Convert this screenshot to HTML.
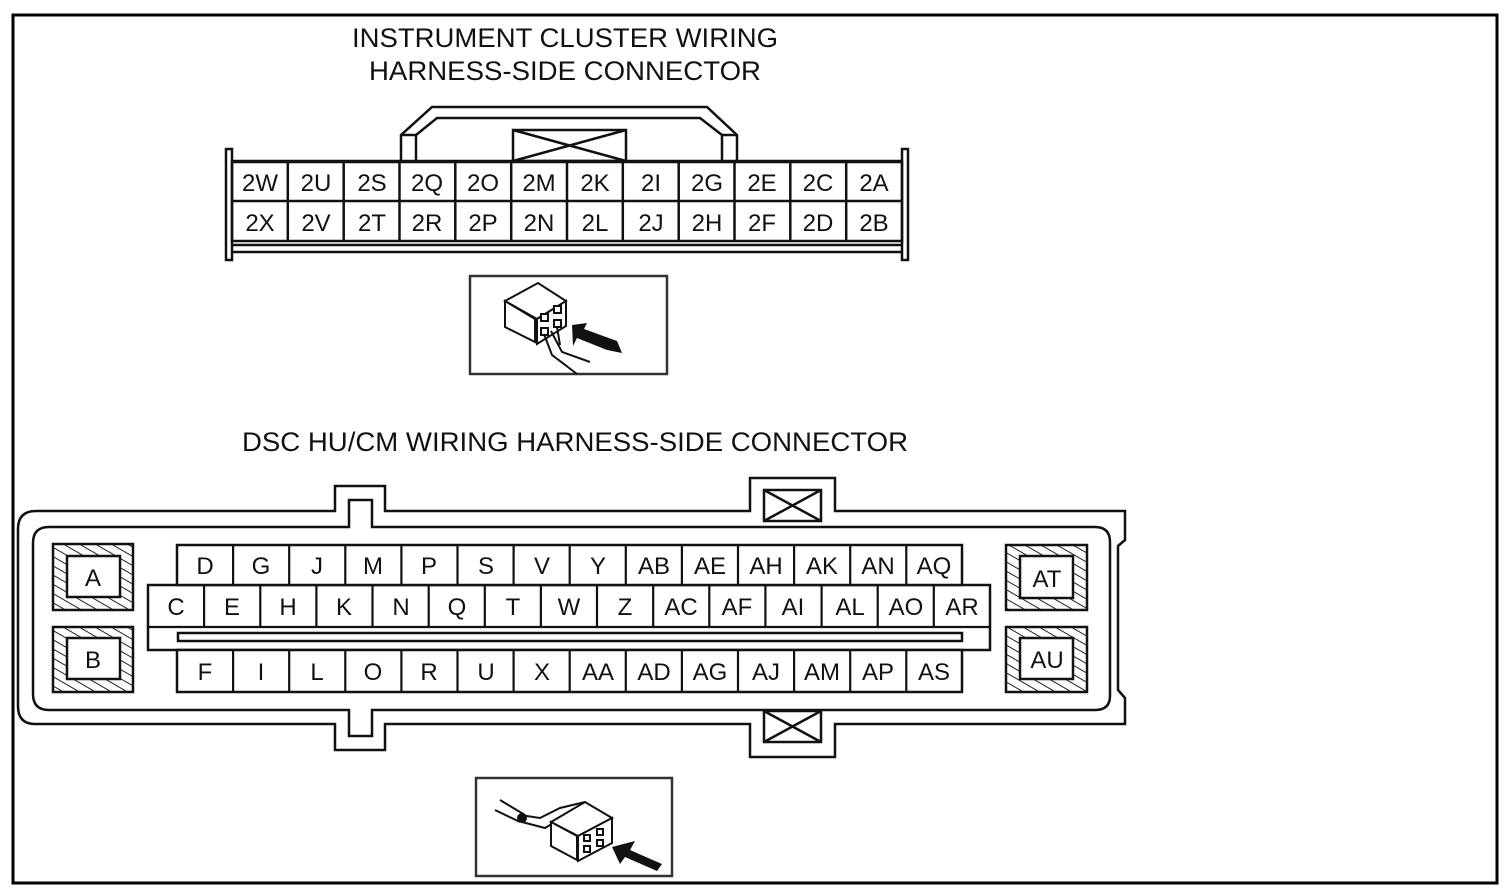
<!DOCTYPE html>
<html><head><meta charset="utf-8"><style>
html,body{margin:0;padding:0;background:#fff;}
svg{display:block;}
text{font-family:"Liberation Sans",sans-serif;fill:#111;}
</style></head><body>
<svg width="1510" height="894" viewBox="0 0 1510 894" xmlns="http://www.w3.org/2000/svg">
<defs>
<pattern id="h" width="8" height="8" patternUnits="userSpaceOnUse" patternTransform="rotate(-60)">
<rect width="8" height="8" fill="#fff"/><line x1="0" y1="0" x2="0" y2="8" stroke="#222" stroke-width="2"/>
</pattern>
</defs>
<rect x="13" y="15" width="1484" height="868" fill="#fff" stroke="#000" stroke-width="3"/>

<g font-size="27" text-anchor="middle">
<text x="565" y="47" textLength="426" lengthAdjust="spacingAndGlyphs">INSTRUMENT CLUSTER WIRING</text>
<text x="565" y="80" textLength="392" lengthAdjust="spacingAndGlyphs">HARNESS-SIDE CONNECTOR</text>
<text x="575" y="451" textLength="666" lengthAdjust="spacingAndGlyphs">DSC HU/CM WIRING HARNESS-SIDE CONNECTOR</text>
</g>

<!-- top connector -->
<g stroke="#111" stroke-width="2.5" fill="none">
<rect x="226" y="149" width="6" height="111" fill="#fff"/>
<rect x="902" y="149" width="6" height="111" fill="#fff"/>
<line x1="232" y1="161" x2="902" y2="161"/>
<line x1="232" y1="245" x2="902" y2="245"/>
<line x1="232" y1="252" x2="902" y2="252"/>
<path d="M401 161 V135 L432 107 H707 L737 135 V161"/>
<path d="M416 161 V135 L437 118 H700 L722 135 V161"/>
<line x1="401" y1="135" x2="416" y2="135"/>
<line x1="722" y1="135" x2="737" y2="135"/>
<rect x="513" y="130" width="113" height="31"/>
<path d="M513 130 L626 161 M626 130 L513 161"/>
<rect x="232" y="162" width="670" height="79"/>
<line x1="232" y1="201" x2="902" y2="201"/>
<path d="M287.8 162V241M343.7 162V241M399.5 162V241M455.3 162V241M511.2 162V241M567 162V241M622.8 162V241M678.7 162V241M734.5 162V241M790.3 162V241M846.2 162V241"/>
</g>
<g font-size="24" text-anchor="middle">
<text x="260" y="191">2W</text><text x="316" y="191">2U</text><text x="372" y="191">2S</text><text x="427" y="191">2Q</text><text x="483" y="191">2O</text><text x="539" y="191">2M</text><text x="595" y="191">2K</text><text x="651" y="191">2I</text><text x="707" y="191">2G</text><text x="762" y="191">2E</text><text x="818" y="191">2C</text><text x="874" y="191">2A</text>
<text x="260" y="231">2X</text><text x="316" y="231">2V</text><text x="372" y="231">2T</text><text x="427" y="231">2R</text><text x="483" y="231">2P</text><text x="539" y="231">2N</text><text x="595" y="231">2L</text><text x="651" y="231">2J</text><text x="707" y="231">2H</text><text x="762" y="231">2F</text><text x="818" y="231">2D</text><text x="874" y="231">2B</text>
</g>

<!-- icon box 1 -->
<rect x="470" y="276" width="197" height="98" fill="#fff" stroke="#333" stroke-width="2.5"/>
<g stroke="#111" stroke-width="2" fill="#fff">
<path d="M505 301 L538 283 L566 301 L537 319 Z"/>
<path d="M505 301 V327 L535 342 V319 Z"/>
<path d="M537 319 L566 301 V326 L537 344 Z"/>
<rect x="541" y="314" width="7" height="7"/><rect x="554" y="306" width="7" height="7"/>
<rect x="541" y="328" width="7" height="7"/><rect x="554" y="320" width="7" height="7"/>
<path d="M544 334 L552 355 L568 367 M551 331 L562 352 L590 362 M557 327 L560 345 M552 355 L577 374" fill="none"/>
</g>
<path d="M572 325 L587 323 L584 329 L617 341 L622 353 L607 350 L577 338 L573 346 Z" fill="#111"/>

<!-- big connector -->
<g stroke="#111" stroke-width="2.5" fill="none">
<path d="M335 511 V486 H385 V511 H750 V478 H835 V511 H1125 V540 L1118 546 V690 L1125 698 V724 H835 V757 H750 V724 H385 V750 H335 V724 H35 Q18 724 18 706 V529 Q18 511 36 511 Z"/>
<path d="M349 527 V500 H372 V527 H1095 Q1110 527 1110 542 V696 Q1110 710 1095 710 H372 V736 H349 V710 H49 Q33 710 33 694 V543 Q33 527 49 527 Z"/>
<rect x="764" y="490" width="57" height="31"/><path d="M764 490 L821 521 M821 490 L764 521"/>
<rect x="764" y="711" width="57" height="31"/><path d="M764 711 L821 742 M821 711 L764 742"/>
</g>
<g stroke="#111" stroke-width="2.5">
<rect x="53" y="544" width="80" height="66" fill="url(#h)"/><rect x="67" y="556" width="53" height="41" fill="#fff"/>
<rect x="53" y="627" width="80" height="65" fill="url(#h)"/><rect x="67" y="638" width="53" height="41" fill="#fff"/>
<rect x="1006" y="545" width="81" height="65" fill="url(#h)"/><rect x="1020" y="556" width="53" height="42" fill="#fff"/>
<rect x="1006" y="627" width="81" height="65" fill="url(#h)"/><rect x="1020" y="638" width="53" height="41" fill="#fff"/>
</g>
<g stroke="#111" stroke-width="2.5" fill="#fff">
<rect x="148" y="585" width="842" height="65"/>
<rect x="178" y="633" width="784" height="8"/>
<rect x="177" y="545" width="785" height="40"/>
<rect x="177" y="650" width="785" height="42"/>
</g>
<g stroke="#111" stroke-width="2.2">
<path d="M233.1 545V585M289.2 545V585M345.3 545V585M401.4 545V585M457.5 545V585M513.6 545V585M569.7 545V585M625.8 545V585M681.9 545V585M738 545V585M794.1 545V585M850.2 545V585M906.3 545V585"/>
<path d="M233.1 650V692M289.2 650V692M345.3 650V692M401.4 650V692M457.5 650V692M513.6 650V692M569.7 650V692M625.8 650V692M681.9 650V692M738 650V692M794.1 650V692M850.2 650V692M906.3 650V692"/>
<path d="M204.1 585V627M260.3 585V627M316.4 585V627M372.5 585V627M428.7 585V627M484.8 585V627M540.9 585V627M597 585V627M653.2 585V627M709.3 585V627M765.4 585V627M821.6 585V627M877.7 585V627M933.8 585V627"/>
<line x1="148" y1="627" x2="990" y2="627"/>
</g>
<g font-size="24" text-anchor="middle">
<text x="93" y="586">A</text><text x="93" y="668">B</text><text x="1047" y="587">AT</text><text x="1047" y="668">AU</text>
<text x="205" y="574">D</text><text x="261" y="574">G</text><text x="317" y="574">J</text><text x="373" y="574">M</text><text x="429" y="574">P</text><text x="486" y="574">S</text><text x="542" y="574">V</text><text x="598" y="574">Y</text><text x="654" y="574">AB</text><text x="710" y="574">AE</text><text x="766" y="574">AH</text><text x="822" y="574">AK</text><text x="878" y="574">AN</text><text x="934" y="574">AQ</text>
<text x="176" y="615">C</text><text x="232" y="615">E</text><text x="288" y="615">H</text><text x="344" y="615">K</text><text x="401" y="615">N</text><text x="457" y="615">Q</text><text x="513" y="615">T</text><text x="569" y="615">W</text><text x="625" y="615">Z</text><text x="681" y="615">AC</text><text x="737" y="615">AF</text><text x="793" y="615">AI</text><text x="850" y="615">AL</text><text x="906" y="615">AO</text><text x="962" y="615">AR</text>
<text x="205" y="680">F</text><text x="261" y="680">I</text><text x="317" y="680">L</text><text x="373" y="680">O</text><text x="429" y="680">R</text><text x="486" y="680">U</text><text x="542" y="680">X</text><text x="598" y="680">AA</text><text x="654" y="680">AD</text><text x="710" y="680">AG</text><text x="766" y="680">AJ</text><text x="822" y="680">AM</text><text x="878" y="680">AP</text><text x="934" y="680">AS</text>
</g>

<!-- icon box 2 -->
<rect x="476" y="778" width="196" height="98" fill="#fff" stroke="#333" stroke-width="2.5"/>
<g stroke="#111" stroke-width="2" fill="#fff">
<path d="M500 800 L525 815 M495 810 L520 822 M520 815 L540 818 L560 808 L585 802 M522 822 L545 828 L565 816" fill="none"/>
<circle cx="522" cy="818" r="4" fill="#111"/>
<path d="M551 822 L585 802 L612 818 L578 836 Z"/>
<path d="M551 822 V846 L577 860 V836 Z"/>
<path d="M578 836 L612 818 V843 L578 861 Z"/>
<rect x="584" y="835" width="6" height="6"/><rect x="597" y="829" width="6" height="6"/>
<rect x="584" y="846" width="6" height="6"/><rect x="597" y="840" width="6" height="6"/>
</g>
<path d="M612 847 L635 841 L630 850 L662 864 L657 871 L625 857 L620 864 Z" fill="#111"/>
</svg>
</body></html>
